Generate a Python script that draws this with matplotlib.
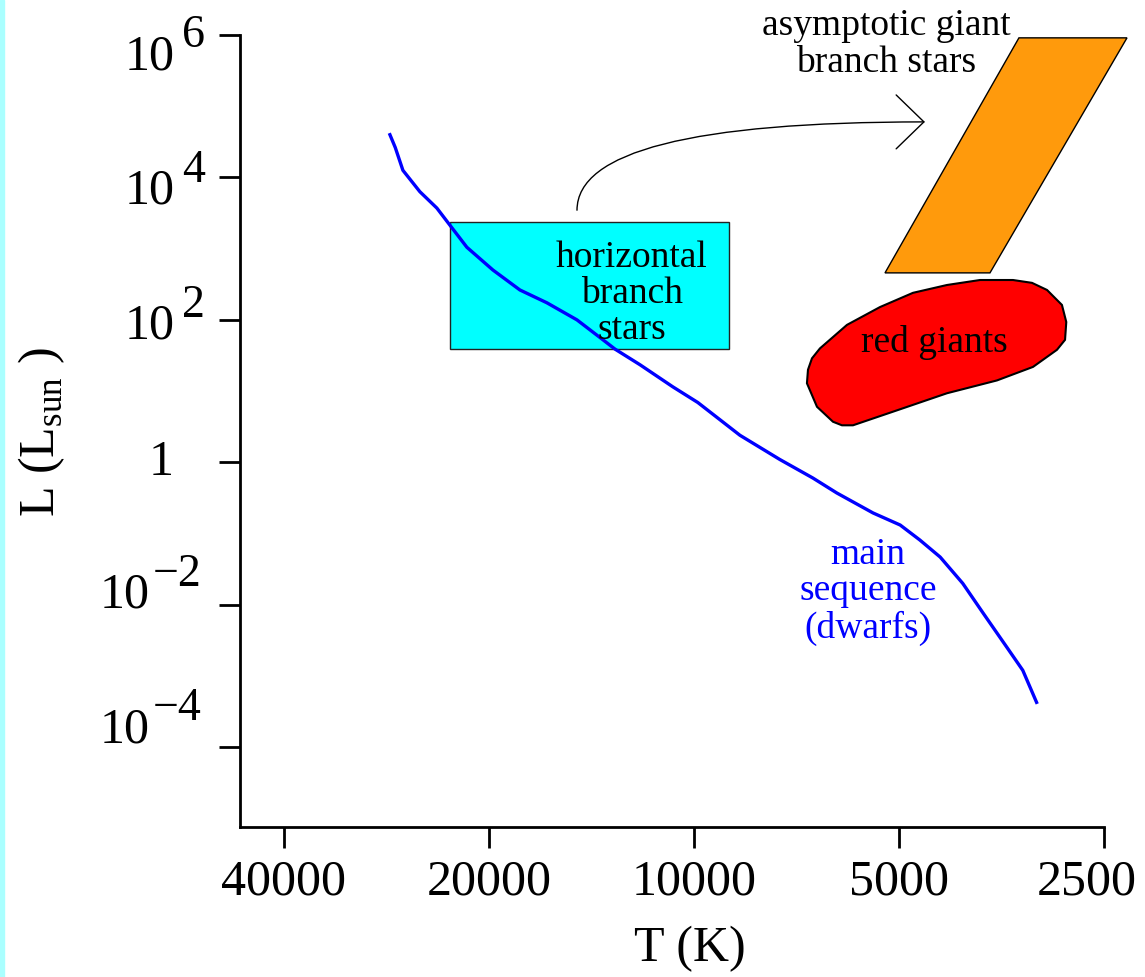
import numpy as np
import matplotlib
matplotlib.use('Agg')
import matplotlib.pyplot as plt
import matplotlib.transforms as mtransforms
from matplotlib.patches import Rectangle, FancyArrowPatch

plt.rcParams['font.family'] = 'Liberation Serif'
plt.rcParams['mathtext.fontset'] = 'custom'
plt.rcParams['mathtext.rm'] = 'Liberation Serif'

# main sequence (T in K, log10 L in L_sun)
ms_T = [27950, 27450, 26750, 25260, 23850, 22820, 21550, 19730, 18010, 16440,
        14850, 13600, 13060, 12000, 10740, 9870, 8560, 7480, 6690, 6170,
        5460, 4980, 4660, 4350, 4030, 3760, 3470, 3290, 3140]
ms_logL = [4.60, 4.42, 4.10, 3.80, 3.57, 3.33, 3.02, 2.70, 2.42, 2.24,
           2.00, 1.72, 1.59, 1.37, 1.06, 0.84, 0.38, 0.04, -0.22, -0.43,
           -0.71, -0.88, -1.09, -1.33, -1.70, -2.12, -2.60, -2.92, -3.37]

# horizontal branch box (T range, log L range)
hb_T = [22820, 8880]
hb_logL = [1.59, 3.37]

# asymptotic giant branch parallelogram
agb_T = [3333, 2313, 3676, 5242]
agb_logL = [5.96, 5.96, 2.66, 2.66]

# red giant blob outline
rg_T = [2852, 2840, 2882, 3031, 3189, 3401, 3802, 4251, 4769, 5332,
        5961, 6531, 6710, 6801, 6825, 6597, 6250, 6063, 5841, 5034,
        4251, 3590, 3178, 2931]
rg_logL = [1.72, 1.97, 2.21, 2.42, 2.52, 2.56, 2.56, 2.49, 2.38, 2.18,
           1.93, 1.60, 1.46, 1.30, 1.11, 0.78, 0.57, 0.52, 0.52, 0.73,
           0.97, 1.15, 1.34, 1.58]

# arrow from horizontal branch to AGB
arrow_T = [14850, 4580]
arrow_logL = [3.54, 4.78]

x_ticks = [40000, 20000, 10000, 5000, 2500]
x_ticklabels = ['40000', '20000', '10000', '5000', '2500']
y_exps = [6, 4, 2, 0, -2, -4]

W, H = 1145, 977
fig = plt.figure(figsize=(W / 100, H / 100), dpi=100)
fig.patches.append(Rectangle((0, 0), 3.5 / W, 1, transform=fig.transFigure,
                             color='#aaffff', zorder=0))
ax = fig.add_axes([240 / W, 150 / H, 864 / W, 792 / H])

ax.set_xscale('log')
ax.set_yscale('log')
ax.set_xlim(46400, 2500)
ax.set_ylim(10 ** -5.12, 1e6)

# horizontal branch
ax.fill([hb_T[0], hb_T[1], hb_T[1], hb_T[0]],
        [10 ** hb_logL[0], 10 ** hb_logL[0], 10 ** hb_logL[1], 10 ** hb_logL[1]],
        facecolor='#00ffff', edgecolor='#222222', lw=1.0, zorder=2)
ax.text(12330, 10 ** 3.12, 'horizontal\nbranch\nstars', ha='center', va='top',
        fontsize=27, linespacing=1.07, zorder=5)

# AGB
ax.fill(agb_T, 10 ** np.array(agb_logL), facecolor='#ff9a0c', edgecolor='black',
        lw=1.0, zorder=2, clip_on=False)
ax.text(5220, 10 ** 6.37, 'asymptotic giant\nbranch stars', ha='center', va='top',
        fontsize=27, linespacing=1.1)

# red giants
ax.fill(rg_T, 10 ** np.array(rg_logL), facecolor='#ff0000', edgecolor='black',
        lw=1.5, zorder=2)
ax.text(4430, 10 ** 1.55, 'red giants', ha='center', va='baseline', fontsize=27,
        zorder=5)

# main sequence
ax.plot(ms_T, 10 ** np.array(ms_logL), color='#0000ff', lw=2.4, zorder=4)
ax.text(5550, 10 ** -1.05, 'main\nsequence\n(dwarfs)', ha='center', va='top',
        fontsize=27, linespacing=1.08, color='#0000ff')

arr = FancyArrowPatch((arrow_T[0], 10 ** arrow_logL[0]), (arrow_T[1], 10 ** arrow_logL[1]),
                      connectionstyle='angle3,angleA=90,angleB=0',
                      arrowstyle='->,head_length=1.0,head_width=0.97',
                      mutation_scale=20, lw=1.0, color='black',
                      shrinkA=0, shrinkB=0, zorder=3)
ax.add_patch(arr)

# axes look
for s in ['top', 'right']:
    ax.spines[s].set_visible(False)
for s in ['left', 'bottom']:
    ax.spines[s].set_linewidth(2.0)

ax.set_xticks(x_ticks)
ax.set_xticklabels(x_ticklabels)
ax.xaxis.set_minor_locator(matplotlib.ticker.NullLocator())
ax.set_yticks([10.0 ** e for e in y_exps])
ax.yaxis.set_minor_locator(matplotlib.ticker.NullLocator())
ax.tick_params(axis='both', direction='out', length=15, width=2.0)
ax.tick_params(axis='x', labelsize=36, pad=8)
ax.tick_params(axis='y', labelleft=False)

# last x label sits a bit left of its tick, as in the original
last = ax.get_xticklabels()[-1]
last.set_transform(last.get_transform() +
                   mtransforms.ScaledTranslation(-0.17, 0, fig.dpi_scale_trans))

# y tick labels written as 10 + raised exponent; in the original the labels
# are squeezed a little toward the middle compared with the ticks
for e in y_exps:
    if e == 0:
        ax.annotate('1', xy=(0, 1.0), xycoords=('axes fraction', 'data'),
                    xytext=(-79, 0), textcoords='offset pixels',
                    ha='center', va='center', fontsize=36)
        continue
    dy = -(3.9 * (e - 1) + 2.5)
    base_x = -65 if e > 0 else -90
    exp_x = -58 if e > 0 else -87
    exp_txt = str(e) if e > 0 else '\u2212' + str(-e)
    ax.annotate('10', xy=(0, 10.0 ** e), xycoords=('axes fraction', 'data'),
                xytext=(base_x, dy), textcoords='offset pixels',
                ha='right', va='center', fontsize=36)
    ax.annotate(exp_txt, xy=(0, 10.0 ** e), xycoords=('axes fraction', 'data'),
                xytext=(exp_x, dy + 21), textcoords='offset pixels',
                ha='left', va='center', fontsize=33)

ax.set_xlabel('T (K)', fontsize=36)
ax.xaxis.set_label_coords(0.521, -0.125)
ax.set_ylabel(r'L (L$_{\mathrm{sun}}$ )', fontsize=36, va='center')
ax.yaxis.set_label_coords(-0.229, 0.499)

plt.savefig('out.png', dpi=100)
